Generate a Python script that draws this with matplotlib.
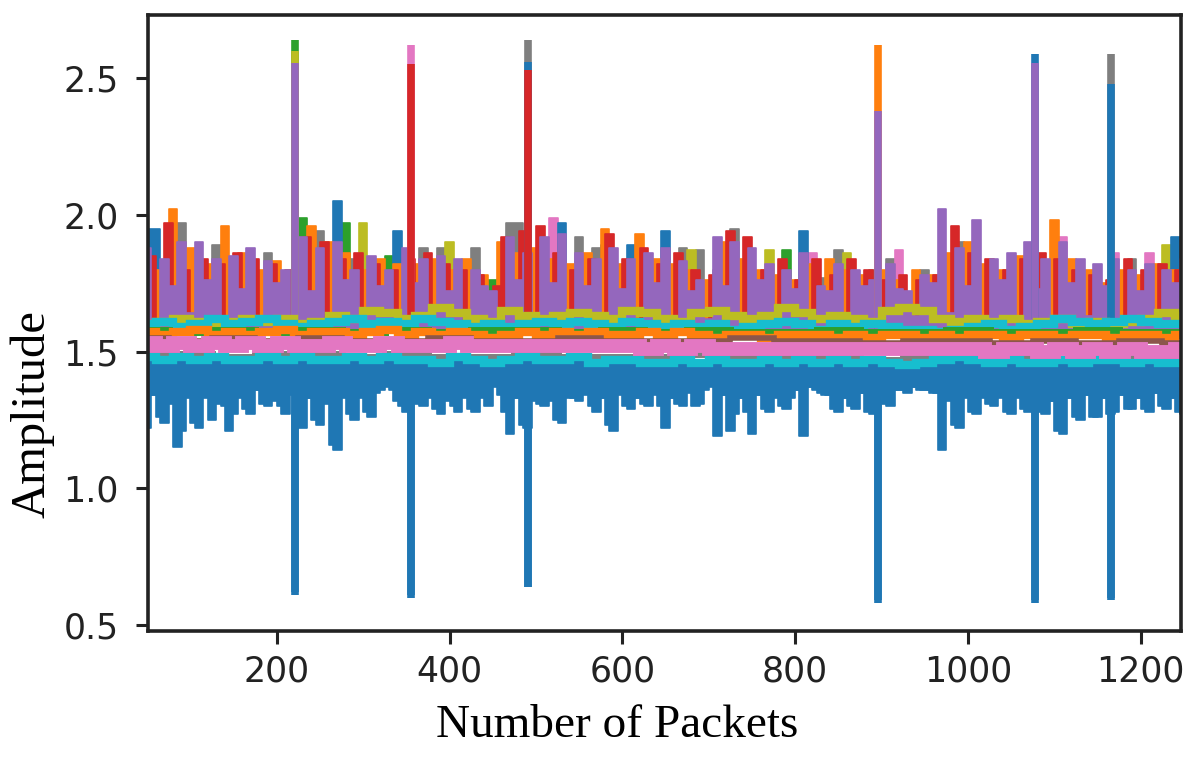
"""
CSI amplitude of the subcarriers over the received packets.
"""
import matplotlib
matplotlib.use("Agg")
import matplotlib.pyplot as plt
import numpy as np

# packet grids (the original has one sample per packet; read here every 10 / 20 / 50)
x_a = np.arange(50, 1251, 10)      # 50, 60, ... 1250
x_b = np.arange(55, 1246, 10)      # 55, 65, ... 1245
x_c = np.arange(50, 1251, 20)
x_d = np.arange(50, 1251, 50)

# packets where every subcarrier jumps
spike_x = [221, 356, 491, 896, 1077, 1166]

# ---- upper group: highest value reached in each packet bin (grid a / b) ----
purple_up = [1.88, 1.62, 1.84, 1.74, 1.90, 1.64, 1.90, 1.76, 1.84, 1.62,
             1.85, 1.73, 1.88, 1.60, 1.83, 1.75, 1.80, 1.62, 1.92, 1.72,
             1.88, 1.60, 1.90, 1.76, 1.80, 1.62, 1.85, 1.74, 1.80, 1.63,
             1.88, 1.75, 1.84, 1.60, 1.85, 1.72, 1.84, 1.61, 1.80, 1.74,
             1.72, 1.62, 1.92, 1.76, 1.86, 1.62, 1.92, 1.75, 1.93, 1.60,
             1.86, 1.74, 1.84, 1.63, 1.88, 1.73, 1.84, 1.62, 1.86, 1.75,
             1.88, 1.60, 1.83, 1.72, 1.76, 1.62, 1.92, 1.74, 1.90, 1.63,
             1.88, 1.76, 1.82, 1.60, 1.80, 1.73, 1.86, 1.62, 1.74, 1.72,
             1.82, 1.63, 1.80, 1.74, 1.76, 1.60, 1.82, 1.73, 1.72, 1.63,
             1.78, 1.75, 2.02, 1.64, 1.88, 1.74, 1.98, 1.63, 1.84, 1.76,
             1.86, 1.62, 1.90, 1.73, 1.84, 1.62, 1.90, 1.75, 1.84, 1.63,
             1.82, 1.74, 1.84, 1.60, 1.80, 1.72, 1.82, 1.62, 1.80, 1.75,
             1.84]
orange_up = [1.60, 1.80, 1.62, 2.02, 1.60, 1.88, 1.63, 1.82, 1.61, 1.96,
             1.62, 1.86, 1.60, 1.80, 1.63, 1.83, 1.62, 1.78, 1.60, 1.96,
             1.62, 1.90, 1.61, 1.86, 1.63, 1.80, 1.60, 1.84, 1.62, 1.82,
             1.60, 1.82, 1.63, 1.84, 1.61, 1.80, 1.60, 1.84, 1.62, 1.78,
             1.60, 1.90, 1.63, 1.86, 1.60, 1.88, 1.62, 1.84, 1.60, 1.82,
             1.62, 1.86, 1.60, 1.95, 1.63, 1.82, 1.60, 1.93, 1.62, 1.84,
             1.60, 1.82, 1.63, 1.80, 1.60, 1.76, 1.62, 1.90, 1.60, 1.84,
             1.63, 1.80, 1.60, 1.78, 1.62, 1.76, 1.60, 1.82, 1.63, 1.84,
             1.60, 1.80, 1.62, 1.78, 1.60, 1.80, 1.62, 1.76, 1.60, 1.80,
             1.63, 1.78, 1.60, 1.86, 1.62, 1.90, 1.60, 1.82, 1.63, 1.80,
             1.60, 1.85, 1.62, 1.80, 1.60, 1.98, 1.62, 1.84, 1.60, 1.80,
             1.63, 1.75, 1.60, 1.80, 1.62, 1.78, 1.60, 1.82, 1.62, 1.80,
             1.60]
red_up = [1.85, 1.62, 1.97, 1.64, 1.80, 1.60, 1.84, 1.62, 1.82, 1.60,
          1.86, 1.62, 1.84, 1.60, 1.82, 1.63, 1.80, 1.62, 1.92, 1.60,
          1.90, 1.62, 1.84, 1.64, 1.86, 1.60, 1.82, 1.62, 1.80, 1.60,
          1.84, 1.62, 1.86, 1.60, 1.82, 1.63, 1.80, 1.60, 1.78, 1.62,
          1.74, 1.92, 1.64, 1.94, 1.62, 1.96, 1.62, 1.86, 1.60, 1.80,
          1.63, 1.84, 1.60, 1.93, 1.62, 1.84, 1.60, 1.88, 1.62, 1.82,
          1.60, 1.86, 1.62, 1.80, 1.60, 1.78, 1.62, 1.94, 1.60, 1.92,
          1.62, 1.80, 1.60, 1.84, 1.63, 1.76, 1.60, 1.84, 1.62, 1.78,
          1.60, 1.84, 1.62, 1.80, 1.60, 1.76, 1.62, 1.78, 1.60, 1.76,
          1.62, 1.78, 1.60, 1.96, 1.62, 1.86, 1.60, 1.84, 1.62, 1.80,
          1.60, 1.84, 1.62, 1.86, 1.60, 1.84, 1.62, 1.80, 1.60, 1.78,
          1.62, 1.76, 1.60, 1.84, 1.62, 1.80, 1.60, 1.82, 1.62, 1.80]

# ---- lower group: lowest value reached in each packet bin ----
blue_lo_a = [1.22, 1.34, 1.24, 1.31, 1.21, 1.33, 1.22, 1.35, 1.33, 1.30,
             1.27, 1.33, 1.27, 1.36, 1.30, 1.32, 1.27, 1.34, 1.22, 1.33,
             1.23, 1.31, 1.14, 1.33, 1.25, 1.35, 1.26, 1.36, 1.37, 1.32,
             1.28, 1.34, 1.30, 1.33, 1.27, 1.35, 1.28, 1.33, 1.28, 1.36,
             1.39, 1.34, 1.20, 1.33, 1.22, 1.32, 1.30, 1.35, 1.24, 1.33,
             1.32, 1.36, 1.28, 1.33, 1.21, 1.34, 1.29, 1.33, 1.30, 1.35,
             1.22, 1.33, 1.30, 1.36, 1.31, 1.38, 1.19, 1.34, 1.27, 1.33,
             1.20, 1.34, 1.28, 1.33, 1.29, 1.36, 1.19, 1.37, 1.35, 1.34,
             1.28, 1.33, 1.29, 1.35, 1.27, 1.34, 1.30, 1.36, 1.35, 1.37,
             1.36, 1.35, 1.14, 1.32, 1.22, 1.33, 1.27, 1.34, 1.30, 1.33,
             1.27, 1.34, 1.28, 1.33, 1.27, 1.32, 1.20, 1.33, 1.25, 1.34,
             1.26, 1.33, 1.28, 1.34, 1.29, 1.33, 1.28, 1.35, 1.29, 1.33,
             1.27]
blue_lo_b = [1.34, 1.26, 1.32, 1.15, 1.35, 1.24, 1.33, 1.25, 1.31, 1.21,
             1.34, 1.29, 1.36, 1.31, 1.33, 1.30, 1.35, 1.24, 1.33, 1.25,
             1.32, 1.16, 1.34, 1.27, 1.33, 1.28, 1.35, 1.38, 1.36, 1.30,
             1.33, 1.31, 1.34, 1.29, 1.32, 1.30, 1.35, 1.29, 1.33, 1.30,
             1.37, 1.28, 1.33, 1.23, 1.34, 1.31, 1.32, 1.25, 1.35, 1.33,
             1.34, 1.30, 1.33, 1.23, 1.35, 1.30, 1.33, 1.31, 1.34, 1.30,
             1.33, 1.31, 1.35, 1.30, 1.36, 1.37, 1.34, 1.21, 1.33, 1.28,
             1.34, 1.29, 1.35, 1.30, 1.33, 1.36, 1.37, 1.36, 1.34, 1.29,
             1.33, 1.30, 1.35, 1.28, 1.34, 1.31, 1.36, 1.36, 1.37, 1.36,
             1.36, 1.35, 1.33, 1.23, 1.34, 1.28, 1.33, 1.31, 1.35, 1.28,
             1.33, 1.29, 1.34, 1.28, 1.32, 1.21, 1.33, 1.26, 1.34, 1.26,
             1.33, 1.27, 1.34, 1.29, 1.33, 1.29, 1.35, 1.30, 1.33, 1.28]

# ---- caps that poke out above the upper group (grid a) ----
gray_cap = [1.62, 1.62, 1.62, 1.62, 1.97, 1.62, 1.62, 1.62, 1.89, 1.62,
            1.62, 1.62, 1.62, 1.62, 1.86, 1.62, 1.62, 1.62, 1.62, 1.62,
            1.94, 1.62, 1.62, 1.62, 1.84, 1.62, 1.62, 1.62, 1.62, 1.62,
            1.80, 1.62, 1.88, 1.62, 1.88, 1.62, 1.62, 1.62, 1.88, 1.62,
            1.62, 1.62, 1.97, 1.97, 1.70, 1.62, 1.62, 1.62, 1.62, 1.62,
            1.92, 1.62, 1.88, 1.62, 1.62, 1.62, 1.62, 1.62, 1.62, 1.62,
            1.62, 1.62, 1.88, 1.62, 1.87, 1.62, 1.80, 1.62, 1.95, 1.62,
            1.62, 1.62, 1.62, 1.62, 1.62, 1.62, 1.62, 1.62, 1.77, 1.62,
            1.87, 1.62, 1.62, 1.62, 1.80, 1.62, 1.84, 1.62, 1.62, 1.62,
            1.80, 1.62, 1.62, 1.62, 1.90, 1.62, 1.62, 1.62, 1.62, 1.62,
            1.62, 1.62, 1.62, 1.62, 1.62, 1.62, 1.62, 1.62, 1.62, 1.62,
            1.62, 1.62, 1.62, 1.62, 1.84, 1.62, 1.62, 1.62, 1.62, 1.62,
            1.62]
green_cap = [1.62, 1.62, 1.62, 1.62, 1.62, 1.62, 1.62, 1.62, 1.62, 1.62,
             1.62, 1.62, 1.62, 1.62, 1.62, 1.62, 1.62, 1.62, 1.99, 1.62,
             1.62, 1.62, 1.62, 1.97, 1.62, 1.62, 1.62, 1.62, 1.85, 1.62,
             1.62, 1.62, 1.62, 1.62, 1.62, 1.62, 1.62, 1.62, 1.62, 1.62,
             1.76, 1.62, 1.62, 1.62, 1.62, 1.62, 1.62, 1.62, 1.62, 1.62,
             1.62, 1.62, 1.62, 1.62, 1.62, 1.62, 1.62, 1.62, 1.62, 1.62,
             1.62, 1.62, 1.62, 1.62, 1.62, 1.62, 1.62, 1.62, 1.62, 1.62,
             1.62, 1.62, 1.62, 1.62, 1.87, 1.62, 1.62, 1.62, 1.62, 1.62,
             1.62, 1.62, 1.62, 1.62, 1.62, 1.62, 1.62, 1.62, 1.62, 1.62,
             1.62, 1.62, 1.62, 1.62, 1.62, 1.62, 1.62, 1.62, 1.62, 1.62,
             1.62, 1.62, 1.62, 1.62, 1.62, 1.62, 1.62, 1.62, 1.62, 1.62,
             1.62, 1.62, 1.62, 1.62, 1.62, 1.62, 1.62, 1.62, 1.62, 1.62,
             1.62]
olive_cap = [1.62, 1.62, 1.62, 1.62, 1.62, 1.62, 1.62, 1.62, 1.62, 1.62,
             1.62, 1.62, 1.62, 1.62, 1.62, 1.62, 1.62, 1.62, 1.62, 1.62,
             1.62, 1.62, 1.62, 1.62, 1.62, 1.97, 1.62, 1.62, 1.62, 1.62,
             1.62, 1.62, 1.62, 1.62, 1.62, 1.90, 1.62, 1.62, 1.62, 1.62,
             1.62, 1.62, 1.62, 1.62, 1.62, 1.62, 1.62, 1.62, 1.62, 1.62,
             1.62, 1.62, 1.62, 1.62, 1.62, 1.62, 1.62, 1.62, 1.62, 1.62,
             1.62, 1.62, 1.62, 1.87, 1.62, 1.62, 1.62, 1.62, 1.62, 1.62,
             1.62, 1.62, 1.87, 1.62, 1.62, 1.62, 1.62, 1.62, 1.62, 1.62,
             1.62, 1.86, 1.62, 1.62, 1.62, 1.62, 1.62, 1.62, 1.62, 1.62,
             1.62, 1.62, 1.62, 1.62, 1.62, 1.62, 1.62, 1.62, 1.62, 1.62,
             1.62, 1.62, 1.62, 1.62, 1.62, 1.62, 1.62, 1.62, 1.62, 1.62,
             1.62, 1.62, 1.62, 1.62, 1.62, 1.62, 1.62, 1.62, 1.89, 1.62,
             1.62]
pink_cap = [1.62, 1.62, 1.62, 1.62, 1.62, 1.62, 1.62, 1.62, 1.62, 1.62,
            1.62, 1.62, 1.62, 1.62, 1.62, 1.62, 1.62, 1.62, 1.62, 1.62,
            1.62, 1.62, 1.62, 1.62, 1.62, 1.62, 1.62, 1.62, 1.62, 1.62,
            1.62, 1.62, 1.62, 1.62, 1.62, 1.62, 1.62, 1.62, 1.62, 1.62,
            1.62, 1.62, 1.62, 1.62, 1.62, 1.62, 1.62, 1.99, 1.62, 1.62,
            1.62, 1.62, 1.62, 1.62, 1.62, 1.62, 1.62, 1.62, 1.62, 1.62,
            1.62, 1.62, 1.62, 1.62, 1.62, 1.62, 1.62, 1.62, 1.62, 1.62,
            1.62, 1.62, 1.62, 1.62, 1.62, 1.62, 1.62, 1.86, 1.62, 1.62,
            1.62, 1.62, 1.62, 1.62, 1.62, 1.62, 1.62, 1.87, 1.62, 1.62,
            1.62, 1.62, 1.62, 1.62, 1.62, 1.62, 1.62, 1.62, 1.62, 1.62,
            1.62, 1.62, 1.62, 1.62, 1.62, 1.62, 1.92, 1.62, 1.62, 1.62,
            1.62, 1.62, 1.86, 1.62, 1.62, 1.62, 1.86, 1.62, 1.62, 1.62,
            1.62]
blue_cap = [1.95, 1.95, 1.62, 1.62, 1.62, 1.62, 1.62, 1.62, 1.62, 1.62,
            1.62, 1.62, 1.62, 1.62, 1.62, 1.62, 1.62, 1.62, 1.62, 1.62,
            1.62, 1.62, 2.05, 1.62, 1.62, 1.62, 1.62, 1.62, 1.62, 1.94,
            1.62, 1.62, 1.62, 1.62, 1.62, 1.62, 1.62, 1.62, 1.62, 1.62,
            1.62, 1.62, 1.62, 1.62, 1.62, 1.62, 1.62, 1.62, 1.97, 1.62,
            1.62, 1.62, 1.62, 1.89, 1.62, 1.62, 1.89, 1.62, 1.62, 1.62,
            1.94, 1.62, 1.62, 1.62, 1.62, 1.62, 1.62, 1.62, 1.62, 1.62,
            1.62, 1.62, 1.62, 1.62, 1.62, 1.62, 1.94, 1.62, 1.62, 1.62,
            1.62, 1.62, 1.62, 1.62, 1.62, 1.62, 1.62, 1.62, 1.62, 1.62,
            1.62, 1.62, 1.62, 1.62, 1.62, 1.62, 1.62, 1.62, 1.62, 1.62,
            1.62, 1.62, 1.62, 1.62, 1.62, 1.62, 1.62, 1.62, 1.62, 1.62,
            1.62, 1.62, 1.62, 1.62, 1.62, 1.62, 1.62, 1.62, 1.62, 1.92,
            1.92]

# ---- middle group (grid c / d) ----
olive_mid = [1.60, 1.61, 1.62, 1.61, 1.60, 1.61, 1.62, 1.61, 1.62, 1.60,
             1.61, 1.63, 1.62, 1.65, 1.64, 1.62, 1.63, 1.66, 1.64, 1.62,
             1.61, 1.65, 1.63, 1.62, 1.63, 1.64, 1.63, 1.62, 1.65, 1.64,
             1.62, 1.61, 1.64, 1.65, 1.63, 1.62, 1.63, 1.66, 1.64, 1.62,
             1.63, 1.62, 1.61, 1.65, 1.66, 1.65, 1.62, 1.61, 1.62, 1.61,
             1.62, 1.60, 1.61, 1.62, 1.60, 1.61, 1.60, 1.61, 1.62, 1.64,
             1.63]
cyan_mid = [1.60, 1.61, 1.59, 1.60, 1.62, 1.60, 1.61, 1.62, 1.60, 1.59,
            1.60, 1.61, 1.62, 1.60, 1.61, 1.60, 1.62, 1.61, 1.60, 1.59,
            1.60, 1.59, 1.60, 1.61, 1.60, 1.61, 1.60, 1.59, 1.61, 1.60,
            1.59, 1.60, 1.59, 1.60, 1.58, 1.59, 1.60, 1.61, 1.60, 1.58,
            1.60, 1.59, 1.60, 1.59, 1.58, 1.58, 1.57, 1.58, 1.59, 1.60,
            1.58, 1.59, 1.60, 1.62, 1.61, 1.60, 1.61, 1.62, 1.61, 1.60,
            1.60]
orange_mid = [1.57, 1.56, 1.57, 1.58, 1.56, 1.57, 1.56, 1.57, 1.58, 1.56,
              1.57, 1.57, 1.56, 1.57, 1.58, 1.56, 1.57, 1.56, 1.57, 1.56,
              1.55, 1.56, 1.57, 1.56, 1.57, 1.56, 1.57, 1.56, 1.56, 1.57,
              1.56, 1.57, 1.56, 1.55, 1.56, 1.56, 1.55, 1.56, 1.56, 1.56,
              1.55, 1.56, 1.55, 1.56, 1.56, 1.55, 1.56, 1.55, 1.56, 1.56,
              1.55, 1.56, 1.56, 1.55, 1.56, 1.56, 1.55, 1.56, 1.56, 1.55,
              1.56]
green_mid = [1.58, 1.57, 1.58, 1.57, 1.58, 1.57, 1.58, 1.57, 1.58, 1.58,
             1.57, 1.58, 1.57, 1.58, 1.57, 1.57, 1.58, 1.57, 1.57, 1.58,
             1.57, 1.57, 1.58, 1.57, 1.57]
brown_hi = [1.55, 1.54, 1.55, 1.54, 1.55, 1.54, 1.54, 1.55, 1.54, 1.54,
            1.55, 1.54, 1.54, 1.54, 1.55, 1.54, 1.54, 1.53, 1.54, 1.54,
            1.53, 1.54, 1.53, 1.54, 1.53]
gray_low = [1.49, 1.49, 1.48, 1.49, 1.49, 1.48, 1.49, 1.48, 1.48, 1.49,
            1.48, 1.48, 1.48, 1.49, 1.48, 1.48, 1.48, 1.47, 1.48, 1.48,
            1.48, 1.47, 1.48, 1.48, 1.47]
cyan_low = [1.48, 1.47, 1.48, 1.47, 1.48, 1.47, 1.47, 1.48, 1.47, 1.48,
            1.47, 1.47, 1.48, 1.47, 1.48, 1.47, 1.47, 1.46, 1.48, 1.47,
            1.46, 1.47, 1.48, 1.47, 1.47, 1.48, 1.46, 1.47, 1.47, 1.46,
            1.46, 1.47, 1.46, 1.47, 1.46, 1.46, 1.47, 1.46, 1.47, 1.46,
            1.47, 1.46, 1.47, 1.46, 1.45, 1.46, 1.47, 1.48, 1.47, 1.46,
            1.47, 1.46, 1.46, 1.47, 1.46, 1.47, 1.47, 1.46, 1.47, 1.46,
            1.46]
pink_mid = [1.53, 1.52, 1.53, 1.52, 1.53, 1.52, 1.53, 1.52, 1.53, 1.52,
            1.52, 1.53, 1.52, 1.52, 1.53, 1.52, 1.52, 1.52, 1.53, 1.52,
            1.52, 1.52, 1.52, 1.52, 1.52, 1.52, 1.52, 1.52, 1.52, 1.51,
            1.52, 1.51, 1.52, 1.51, 1.51, 1.51, 1.51, 1.51, 1.51, 1.51,
            1.51, 1.51, 1.51, 1.51, 1.51, 1.51, 1.51, 1.51, 1.51, 1.50,
            1.51, 1.51, 1.50, 1.51, 1.50, 1.51, 1.50, 1.51, 1.50, 1.50,
            1.51]

# value of each series at the spike packets (221, 356, 491, 896, 1077, 1166)
gray_cap_sp = [1.62, 1.62, 2.64, 1.62, 1.62, 2.59]
green_cap_sp = [2.64, 1.62, 1.62, 1.62, 1.62, 1.62]
olive_cap_sp = [2.60, 1.62, 1.62, 1.62, 1.62, 1.62]
pink_cap_sp = [1.62, 2.62, 1.62, 1.62, 1.62, 1.62]
blue_cap_sp = [1.62, 1.62, 2.56, 1.62, 2.59, 2.48]
blue_lo_a_sp = [0.61, 0.60, 0.64, 0.58, 0.58, 0.59]
blue_lo_b_sp = [0.62, 0.61, 0.64, 0.59, 0.59, 0.60]
orange_up_sp = [1.60, 1.60, 1.60, 2.62, 1.60, 1.60]
red_up_sp = [1.60, 2.55, 2.53, 1.60, 1.60, 1.60]
purple_up_sp = [2.555, 1.60, 1.60, 2.38, 2.555, 1.60]

C = {"blue": "#1f77b4", "orange": "#ff7f0e", "green": "#2ca02c",
     "red": "#d62728", "purple": "#9467bd", "brown": "#8c564b",
     "pink": "#e377c2", "gray": "#7f7f7f", "olive": "#bcbd22",
     "cyan": "#17becf"}
LW = 6
SPIKE_LW = 5.5

fig = plt.figure(figsize=(11.96, 7.57), dpi=100)
ax = fig.add_axes([0.1237, 0.1664, 0.8641, 0.8138])

# 每条子载波在一个包间隔内来回跳动，粗线叠在一起看起来像实心的柱子，
# 所以用阶梯填充表示其摆动范围；单包尖峰用竖线画
swings = [
    # grid, values, spikes, colour, level the swing starts from
    (x_a, gray_cap, gray_cap_sp, "gray", 1.62),
    (x_a, green_cap, green_cap_sp, "green", 1.62),
    (x_a, olive_cap, olive_cap_sp, "olive", 1.62),
    (x_a, pink_cap, pink_cap_sp, "pink", 1.62),
    (x_a, blue_cap, blue_cap_sp, "blue", 1.62),
    (x_a, blue_lo_a, blue_lo_a_sp, "blue", 1.47),
    (x_b, blue_lo_b, blue_lo_b_sp, "blue", 1.47),
    (x_a, orange_up, orange_up_sp, "orange", 1.58),
    (x_b, red_up, red_up_sp, "red", 1.58),
    (x_a, purple_up, purple_up_sp, "purple", 1.58),
]
for xg, yv, sv, col, level in swings:
    ax.fill_between(xg, level, yv, step="mid", color=C[col],
                    linewidth=1.2, edgecolor=C[col])
    ax.vlines(spike_x, level, sv, colors=C[col], linewidth=SPIKE_LW)

flat = [
    (x_c, olive_mid, "olive", LW),
    (x_c, cyan_mid, "cyan", LW),
    (x_d, green_mid, "green", 5),
    (x_c, orange_mid, "orange", LW),
    (x_d, brown_hi, "brown", 4),
    (x_d, gray_low, "gray", 5),
    (x_c, cyan_low, "cyan", LW),
    (x_c, pink_mid, "pink", 10),
]
for xg, yv, col, lw in flat:
    ax.plot(xg, yv, color=C[col], linewidth=lw, drawstyle="steps-mid",
            solid_joinstyle="miter", solid_capstyle="butt")

ax.set_xlim(51, 1247)
ax.set_ylim(0.478, 2.731)
ax.set_xticks([200, 400, 600, 800, 1000, 1200])
ax.set_yticks([0.5, 1.0, 1.5, 2.0, 2.5])

for s in ax.spines.values():
    s.set_linewidth(2.6)
    s.set_color("#222222")
ax.tick_params(axis="both", labelsize=25, length=9, width=2.2,
               colors="#222222")
ax.tick_params(axis="x", pad=8)
ax.tick_params(axis="y", pad=12)

ax.set_xlabel("Number of Packets", fontsize=34, family="Liberation Serif",
              va="baseline", ha="center")
ax.xaxis.set_label_coords(0.4545, -0.172)
ax.set_ylabel("Amplitude", fontsize=35, family="Liberation Serif",
              va="center", ha="center")
ax.yaxis.set_label_coords(-0.112, 0.353)

fig.savefig("out.png", dpi=100)
plt.close(fig)
